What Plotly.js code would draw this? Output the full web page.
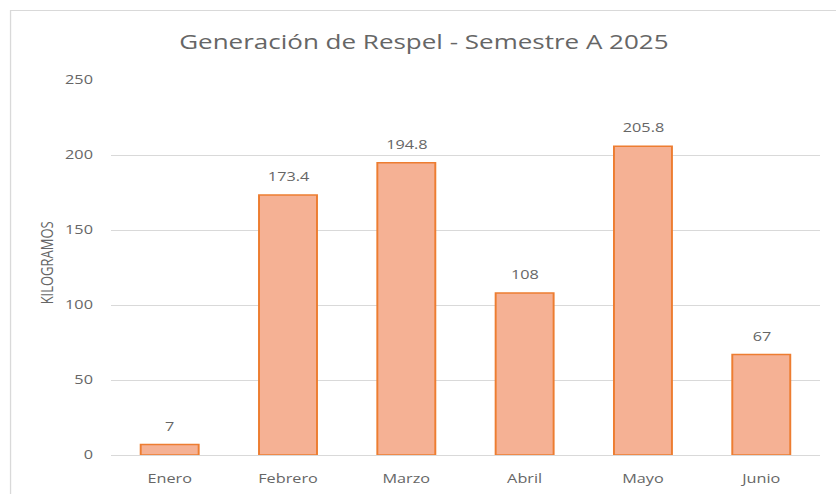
<!DOCTYPE html>
<html>
<head>
<meta charset="utf-8">
<script src="https://cdn.plot.ly/plotly-3.0.1.min.js"></script>
<style>
  html, body { margin: 0; padding: 0; background: #ffffff; overflow: hidden; }
  #chart { width: 643px; height: 494px; transform: scaleX(1.3002); transform-origin: 0 0; }
</style>
</head>
<body>
<div id="chart"></div>
<script>
const months = ["Enero", "Febrero", "Marzo", "Abril", "Mayo", "Junio"];
const kilos = [7, 173.4, 194.8, 108, 205.8, 67];
const labels = ["7", "173.4", "194.8", "108", "205.8", "67"];
const yTicks = [0, 50, 100, 150, 200, 250];

const font = "Open Sans, Lato, sans-serif";
const gray = "#666666";
const W = 643, L = 85, R = 12;
const PW = W - L - R;

const trace = {
  type: "bar",
  x: months,
  y: kilos,
  width: 0.49,
  marker: {
    color: "#f5b194",
    line: { color: "#ed7d31", width: 1.5 }
  },
  hoverinfo: "x+y"
};

const valueNotes = months.map((m, i) => ({
  x: m, y: kilos[i], xref: "x", yref: "y",
  text: labels[i], showarrow: false,
  yanchor: "bottom", yshift: 8,
  font: { family: font, size: 12.5, color: gray }
}));

const layout = {
  width: W, height: 494,
  margin: { l: L, r: R, t: 80, b: 39 },
  paper_bgcolor: "#ffffff",
  plot_bgcolor: "#ffffff",
  showlegend: false,
  title: {
    text: "Generación de Respel - Semestre A 2025",
    font: { family: font, size: 20, color: gray },
    xref: "container", x: 0.507, xanchor: "center",
    yref: "container", y: 1 - 42 / 494, yanchor: "middle"
  },
  xaxis: {
    type: "category",
    tickfont: { family: font, size: 12.5, color: gray },
    showgrid: false,
    showline: true, linecolor: "#d9d9d9", linewidth: 1,
    ticks: "outside", ticklen: 12, tickcolor: "rgba(0,0,0,0)",
    zeroline: false
  },
  yaxis: {
    range: [0, 250],
    tickvals: yTicks,
    tickfont: { family: font, size: 12.5, color: gray },
    showgrid: true, gridcolor: "#d9d9d9", gridwidth: 1,
    zeroline: false, showline: false,
    ticks: "outside", ticklen: 10, tickcolor: "rgba(0,0,0,0)"
  },
  annotations: valueNotes.concat([{
    text: "KILOGRAMOS", xref: "paper", yref: "paper",
    x: (35.4 - L) / PW, y: (455 - 263) / 375,
    xanchor: "center", yanchor: "middle",
    textangle: -90, showarrow: false,
    font: { family: font, size: 13, color: gray }
  }]),
  shapes: [{
    type: "rect", xref: "paper", yref: "paper",
    x0: (8.1 - L) / PW, x1: 1.1,
    y0: -0.3, y1: (455 - 10.5) / 375,
    line: { color: "#d9d9d9", width: 1 },
    fillcolor: "rgba(0,0,0,0)", layer: "below"
  }]
};

Plotly.newPlot("chart", [trace], layout, { displayModeBar: false, staticPlot: true });
</script>
</body>
</html>
